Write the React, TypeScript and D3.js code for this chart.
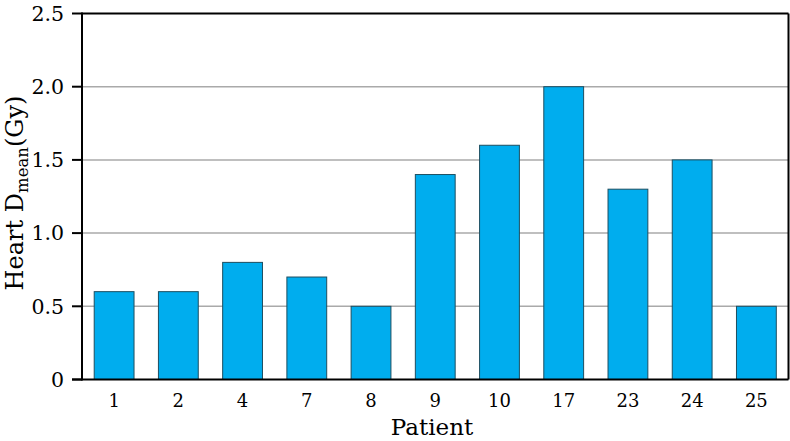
import React from "react";
import * as d3 from "d3";

const patients = ["1", "2", "4", "7", "8", "9", "10", "17", "23", "24", "25"];
const heartDmean = [0.6, 0.6, 0.8, 0.7, 0.5, 1.4, 1.6, 2.0, 1.3, 1.5, 0.5];
const yTicks = [0, 0.5, 1.0, 1.5, 2.0, 2.5];
const yTickLabels = ["0", "0.5", "1.0", "1.5", "2.0", "2.5"];

const W = 790, H = 441;
const left = 82, right = 788.5, top = 13.5, bottom = 379.5;
const FONT = "'DejaVu Serif', 'Liberation Serif', serif";

export default function App() {
  const x = d3.scaleBand<string>().domain(patients).range([left, right]).paddingInner(0.38).paddingOuter(0.19);
  const y = d3.scaleLinear().domain([0, 2.5]).range([bottom, top]);
  return (
    <svg width={W} height={H} style={{ position: "absolute", left: 0, top: 0 }} fontFamily={FONT}>
      <rect width={W} height={H} fill="#fff" />
      {yTicks.slice(1, -1).map((t) => (
        <line key={t} x1={left} x2={right} y1={y(t)} y2={y(t)} stroke="#aaaaaa" strokeWidth={1.5} />
      ))}
      {patients.map((p, i) => (
        <rect key={p} x={x(p)} y={y(heartDmean[i])} width={x.bandwidth()} height={y(0) - y(heartDmean[i])}
          fill="#00adee" stroke="#1d4e60" strokeWidth={1} />
      ))}
      <line x1={left} x2={right} y1={top} y2={top} stroke="#000" strokeWidth={2} />
      <line x1={right} x2={right} y1={top} y2={bottom} stroke="#000" strokeWidth={2} />
      <line x1={left} x2={left} y1={top - 1} y2={bottom + 1} stroke="#000" strokeWidth={2} />
      <line x1={left - 10} x2={right} y1={bottom} y2={bottom} stroke="#000" strokeWidth={2} />
      {yTicks.map((t, i) => (
        <g key={t}>
          <line x1={left - 10} x2={left} y1={y(t)} y2={y(t)} stroke="#000" strokeWidth={2} />
          <text x={left - 18} y={y(t)} dy="0.36em" textAnchor="end" fontSize={20.5}>{yTickLabels[i]}</text>
        </g>
      ))}
      {patients.map((p) => (
        <text key={p} x={(x(p) as number) + x.bandwidth() / 2} y={407} textAnchor="middle" fontSize={18}>{p}</text>
      ))}
      <text x={432} y={435} textAnchor="middle" fontSize={23}>Patient</text>
      <text transform={`translate(23, 193) rotate(-90)`} textAnchor="middle" fontSize={24}>
        Heart D<tspan fontSize={16.5} dy={5}>mean</tspan><tspan dy={-5}>(Gy)</tspan>
      </text>
    </svg>
  );
}
